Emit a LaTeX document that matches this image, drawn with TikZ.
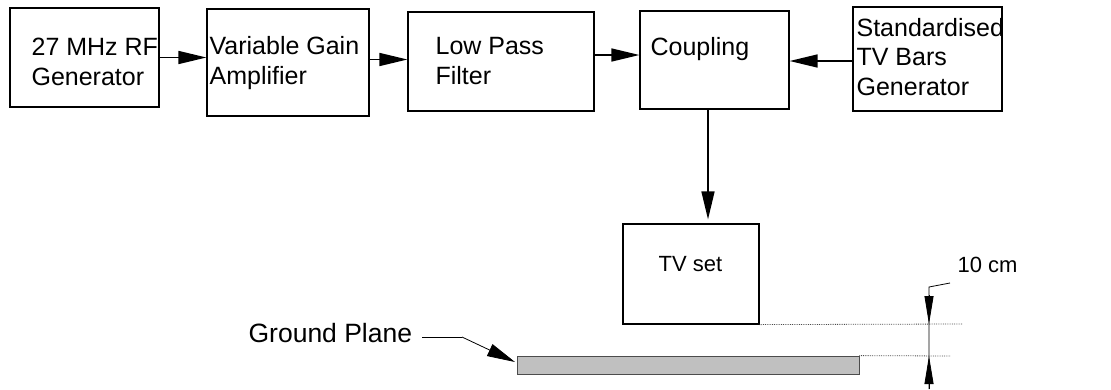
\documentclass[tikz,border=0pt]{standalone}
\usepackage{fontspec}
\setmainfont{Liberation Sans}
\usetikzlibrary{arrows.meta}
\begin{document}
\begin{tikzpicture}[x=1pt,y=-1pt,line width=1.2pt]
\tikzstyle{block}=[draw, rectangle, inner sep=0pt]
\tikzstyle{txt}=[anchor=base west, inner sep=0pt, align=left, font=\fontsize{25}{29.5}\selectfont]
\tikzstyle{sig}=[-{Triangle[length=28pt,width=13pt]}, line width=1.5pt]
\tikzstyle{dim}=[-{Triangle[length=28pt,width=9pt]}, line width=0.8pt]
\tikzstyle{aux}=[densely dotted, line width=0.8pt, black!70]
\useasboundingbox (0,0) rectangle (1111,389);

\node[block, minimum width=149pt, minimum height=99pt] (rf) at (84.5, 57.5) {};
\node[block, minimum width=162pt, minimum height=107pt] (vga) at (288, 62.5) {};
\node[block, minimum width=186pt, minimum height=99pt] (lpf) at (501, 61.5) {};
\node[block, minimum width=149pt, minimum height=98pt] (cpl) at (714.5, 60) {};
\node[block, minimum width=149pt, minimum height=104pt] (bars) at (927.5, 59) {};
\node[block, minimum width=136pt, minimum height=100pt] (tv) at (691, 274) {};
\node[draw=black!70, line width=0.8pt, fill={rgb,255:red,192;green,192;blue,192}, minimum width=342pt, minimum height=18pt, inner sep=0pt] (gnd) at (688, 365) {};

% base of the last line
\node[txt] (rftxt) at (31, 85) {27 MHz RF\\Generator};
\node[txt] (vgatxt) at (209, 84) {Variable Gain\\Amplifier};
\node[txt] (lpftxt) at (435, 84) {Low Pass\\Filter};
\node[txt] (cpltxt) at (650, 55) {Coupling};
\node[txt] (barstxt) at (856, 95) {Standardised\\TV Bars\\Generator};
\node[txt, font=\fontsize{22}{26}\selectfont] (tvtxt) at (658, 271) {TV set};
\node[txt, font=\fontsize{22}{26}\selectfont] (cmtxt) at (957, 272) {10 cm};
\node[txt, font=\fontsize{26.5}{30}\selectfont] (gndtxt) at (248, 342) {Ground Plane};

\draw[sig] (rf.east) -- (rf.east -| vga.west);
\draw[sig] ([yshift=3pt]vga.east) -- ([yshift=3pt]vga.east -| lpf.west);
\draw[sig] ([yshift=6.5pt]lpf.east) -- ([yshift=6.5pt]lpf.east -| cpl.west);
\draw[sig] (bars.west |- 0,61) -- (cpl.east |- 0,61);
\draw[sig] ([xshift=-6.5pt]cpl.south) -- ([xshift=-6.5pt,yshift=4pt]cpl.south |- tv.north);

% ground plane leader
\coordinate (gp1) at (422, 337);
\coordinate (gp2) at (462, 337);
\coordinate (gptip) at (515, 362);
\draw[line width=0.8pt] (gp1) -- (gp2);
\draw[sig, line width=0.8pt] (gp2) -- (gptip);

% 10 cm dimension
\coordinate (tvref) at (962, 324);
\coordinate (gndref) at (950, 356);
\draw[aux] (tv.south east) -- (tvref);
\draw[aux] (gnd.north east) -- (gndref);
\coordinate (lead) at (950, 283);
\coordinate (dtop) at (929, 287);
\coordinate (dbot) at (929, 389);
\draw[line width=0.8pt] (lead) -- (dtop) -- (dbot);
\draw[dim] (929, 295) -- (929, 324);
\draw[dim] (dbot) -- (929, 356);
\end{tikzpicture}
\end{document}
